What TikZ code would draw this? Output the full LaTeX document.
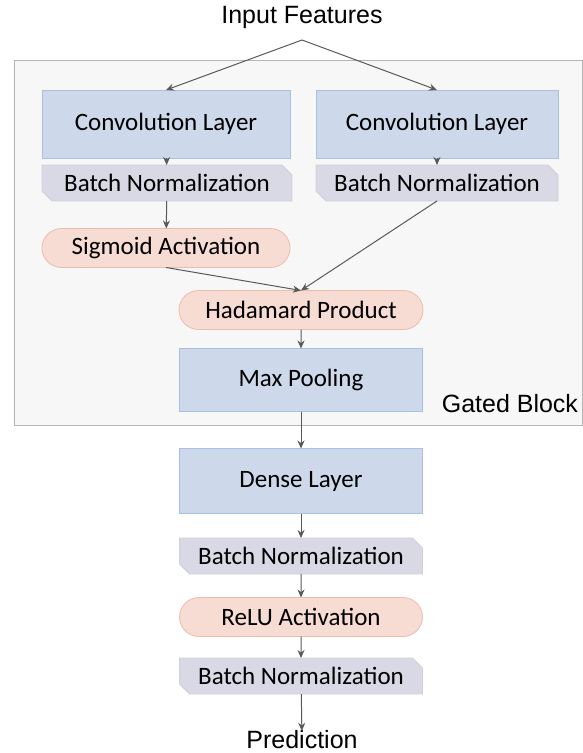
\documentclass[tikz,border=0pt]{standalone}
\usepackage{fontspec}
\setmainfont{Liberation Sans}
\newfontfamily\boxfont{Carlito}
\usetikzlibrary{arrows.meta,shapes.misc}
\definecolor{convfill}{HTML}{CDD9EA}
\definecolor{convdraw}{HTML}{A9C0E3}
\definecolor{bnfill}{HTML}{D9D9E5}
\definecolor{bndraw}{HTML}{D0D0DC}
\definecolor{actfill}{HTML}{F7DCD4}
\definecolor{actdraw}{HTML}{EDBCAC}
\definecolor{blockfill}{HTML}{F7F7F7}
\definecolor{blockdraw}{HTML}{B5B5B5}
\definecolor{arrowcol}{HTML}{595959}
\tikzset{
  every node/.style={inner sep=0pt, outer sep=0pt},
  boxtext/.style={font=\boxfont\fontsize{25}{30}\selectfont},
  convbox/.style={rectangle, draw=convdraw, fill=convfill, line width=0.8pt, boxtext},
  bnbox/.style={chamfered rectangle, chamfered rectangle corners={north east,south west}, chamfered rectangle xsep=5pt, chamfered rectangle ysep=5pt, draw=bndraw, fill=bnfill, line width=0.8pt, boxtext},
  actbox/.style={rounded rectangle, draw=actdraw, fill=actfill, line width=0.8pt, boxtext},
  plain/.style={font=\fontsize{25}{30}\selectfont},
  conn/.style={draw=arrowcol, line width=1pt, -{Stealth[length=8pt,width=7pt]}},
}
\begin{document}
\begin{tikzpicture}[x=1pt,y=-1pt]
\useasboundingbox (0,0) rectangle (583,753);
\fill[blockfill, draw=blockdraw, line width=0.8pt] (14,60) rectangle (582,425);
\node[plain] (input) at (302,17) {Input Features};
\coordinate (split) at (302,40);
\node[convbox, minimum width=248pt, minimum height=68pt] (conv1) at (166,124) {Convolution Layer};
\node[convbox, minimum width=242pt, minimum height=68pt] (conv2) at (437,124) {Convolution Layer};
\node[bnbox, minimum width=250pt, minimum height=36pt] (bn1) at (167,183) {Batch Normalization};
\node[bnbox, minimum width=242pt, minimum height=36pt] (bn2) at (437,183) {Batch Normalization};
\node[actbox, minimum width=248pt, minimum height=39pt] (sig) at (166,248) {Sigmoid Activation};
\node[actbox, minimum width=244pt, minimum height=39pt] (had) at (301,310) {Hadamard Product};
\node[convbox, minimum width=243pt, minimum height=63pt] (mp) at (301,380) {Max Pooling};
\node[plain, anchor=east] (gated) at (578,404) {Gated Block};
\node[convbox, minimum width=243pt, minimum height=65pt] (dense) at (301,481) {Dense Layer};
\node[bnbox, minimum width=243pt, minimum height=36pt] (bn3) at (301,556) {Batch Normalization};
\node[actbox, minimum width=243pt, minimum height=39pt] (relu) at (301,617) {ReLU Activation};
\node[bnbox, minimum width=243pt, minimum height=36pt] (bn4) at (301,676) {Batch Normalization};
\node[plain] (pred) at (302,740) {Prediction};
\draw[conn] (split) -- (conv1.north);
\draw[conn] (split) -- (conv2.north);
\draw[conn] (conv1) -- (bn1);
\draw[conn] (conv2) -- (bn2);
\draw[conn] (bn1) -- (sig);
\draw[conn] (sig.south) -- (had.north);
\draw[conn] (bn2.south) -- (had.north);
\draw[conn] (had) -- (mp);
\draw[conn] (mp) -- (dense);
\draw[conn] (dense) -- (bn3);
\draw[conn] (bn3) -- (relu);
\draw[conn] (relu) -- (bn4);
\draw[conn] (bn4) -- (pred);
\end{tikzpicture}
\end{document}
